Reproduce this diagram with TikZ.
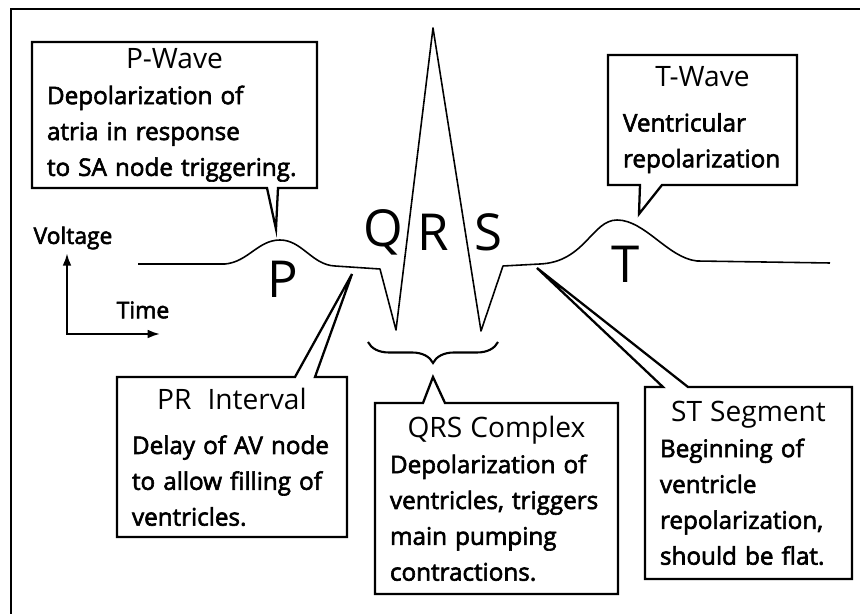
\documentclass[tikz,border=0pt]{standalone}
\usepackage{fontspec}
\setmainfont{Open Sans}
\newfontfamily\bodyfont{Open Sans}[FakeBold=2.5]
\usepackage{tikz}
\usetikzlibrary{arrows.meta,calc,decorations.pathreplacing,positioning}
\hyphenpenalty=10000
\tikzstyle{infobox}=[
	rectangle,
	anchor=north west,
	outer sep=0,
	inner xsep=0.3cm,
	align=left,
	font=\bodyfont\fontsize{13.8}{20.4}\selectfont]
\tikzstyle{callout}=[
	draw=black,
	line width=1.3pt,
	line join=miter]
\tikzstyle{ecg}=[line width=0.9pt, line join=round]
\tikzstyle{wavelabel}=[inner sep=0, font=\fontsize{29}{29}\selectfont]
\tikzstyle{axislabel}=[inner sep=0, font=\bodyfont\fontsize{13}{13}\selectfont]
\newcommand{\boxtitle}[1]{\hspace*{\fill}{\normalfont\fontsize{16}{20.4}\selectfont #1}\hspace*{\fill}\mbox{}}

\begin{document}
\begin{tikzpicture}[x=0.02cm,y=-0.02cm,>={Latex[length=7pt,width=5pt]}]
	\useasboundingbox (0,0) rectangle (860,614);
	\draw[line width=1.4pt] (11,614) -- (11,9) -- (860,9);

	% the trace
	\draw[ecg] (138,264) -- (225,264) .. controls (248,262) and (258,240) .. (280,240)
		.. controls (302,240) and (312,265) .. (335,266) -- (380,269) -- (396,330)
		-- (433,28) -- (481,331) -- (503,266) -- (540,264)
		.. controls (585,262) and (592,220) .. (617,220)
		.. controls (645,220) and (668,258) .. (697,261) -- (830,263);
	\node[wavelabel] (plab) at (283,279) {P};
	\node[wavelabel] (qlab) at (383,232) {Q};
	\node[wavelabel] (rlab) at (433,232) {R};
	\node[wavelabel] (slab) at (488,232) {S};
	\node[wavelabel] (tlab) at (626,264) {T};
	\draw[line width=1.2pt, decorate, decoration={brace, mirror, amplitude=0.42cm}]
		(368,342) -- (498,342);

	% axes
	\node[axislabel] (volt) at (73,238) {Voltage};
	\node[axislabel] (time) at (143,310) {Time};
	\coordinate (axorig) at (67,334);
	\coordinate (timeend) at (160,334);
	\draw[line width=1.2pt, <->, shorten <=2pt] (axorig |- volt.south) -- (axorig) -- (timeend);

	% callouts
	\node[infobox, text width=5.1cm, minimum height=2.92cm] (pwave) at (32,42)
		{\boxtitle{P-Wave}\\ Depolarization of\\ atria in response\\ to SA node triggering.};
	\coordinate (ptip) at (276,229);
	\draw[callout] (pwave.north west) -- (pwave.north east) -- (pwave.south east)
		-- ($(pwave.south west)+(246,0)$) -- (ptip) -- ($(pwave.south west)+(235,0)$)
		-- (pwave.south west) -- cycle;

	\node[infobox, text width=3.18cm, minimum height=2.6cm] (twave) at (608,55)
		{\boxtitle{T-Wave}\\[5pt] Ventricular\\ repolarization};
	\coordinate (ttip) at (639,214);
	\draw[callout] (twave.north west) -- (twave.north east) -- (twave.south east)
		-- ($(twave.south west)+(54,0)$) -- (ttip) -- ($(twave.south west)+(32,0)$)
		-- (twave.south west) -- cycle;

	\node[infobox, text width=4cm, minimum height=3.2cm] (print) at (117,377)
		{\boxtitle{PR\ \ Interval}\\[5pt] Delay of AV node\\ to allow filling of\\ ventricles.};
	\coordinate (prtip) at (352,274);
	\draw[callout] (print.north west) -- ($(print.north west)+(178,0)$) -- (prtip)
		-- ($(print.north west)+(198,0)$) -- (print.north east) -- (print.south east)
		-- (print.south west) -- cycle;

	\node[infobox, text width=4.26cm, minimum height=3.82cm] (qrs) at (375,403)
		{\boxtitle{QRS Complex}\\ Depolarization of\\ ventricles, triggers\\ main pumping\\ contractions.};
	\coordinate (qrstip) at (433,377);
	\draw[callout] (qrs.north west) -- ($(qrs.north west)+(48,0)$) -- (qrstip)
		-- ($(qrs.north west)+(70,0)$) -- (qrs.north east) -- (qrs.south east)
		-- (qrs.south west) -- cycle;

	\node[infobox, text width=3.54cm, minimum height=3.84cm] (stseg) at (645,387)
		{\boxtitle{ST Segment}\\ Beginning of\\ ventricle\\ repolarization,\\ should be flat.};
	\coordinate (sttip) at (537,268);
	\draw[callout] (stseg.north west) -- ($(stseg.north west)+(18,0)$) -- (sttip)
		-- ($(stseg.north west)+(43,0)$) -- (stseg.north east) -- (stseg.south east)
		-- (stseg.south west) -- cycle;
\end{tikzpicture}
\end{document}
